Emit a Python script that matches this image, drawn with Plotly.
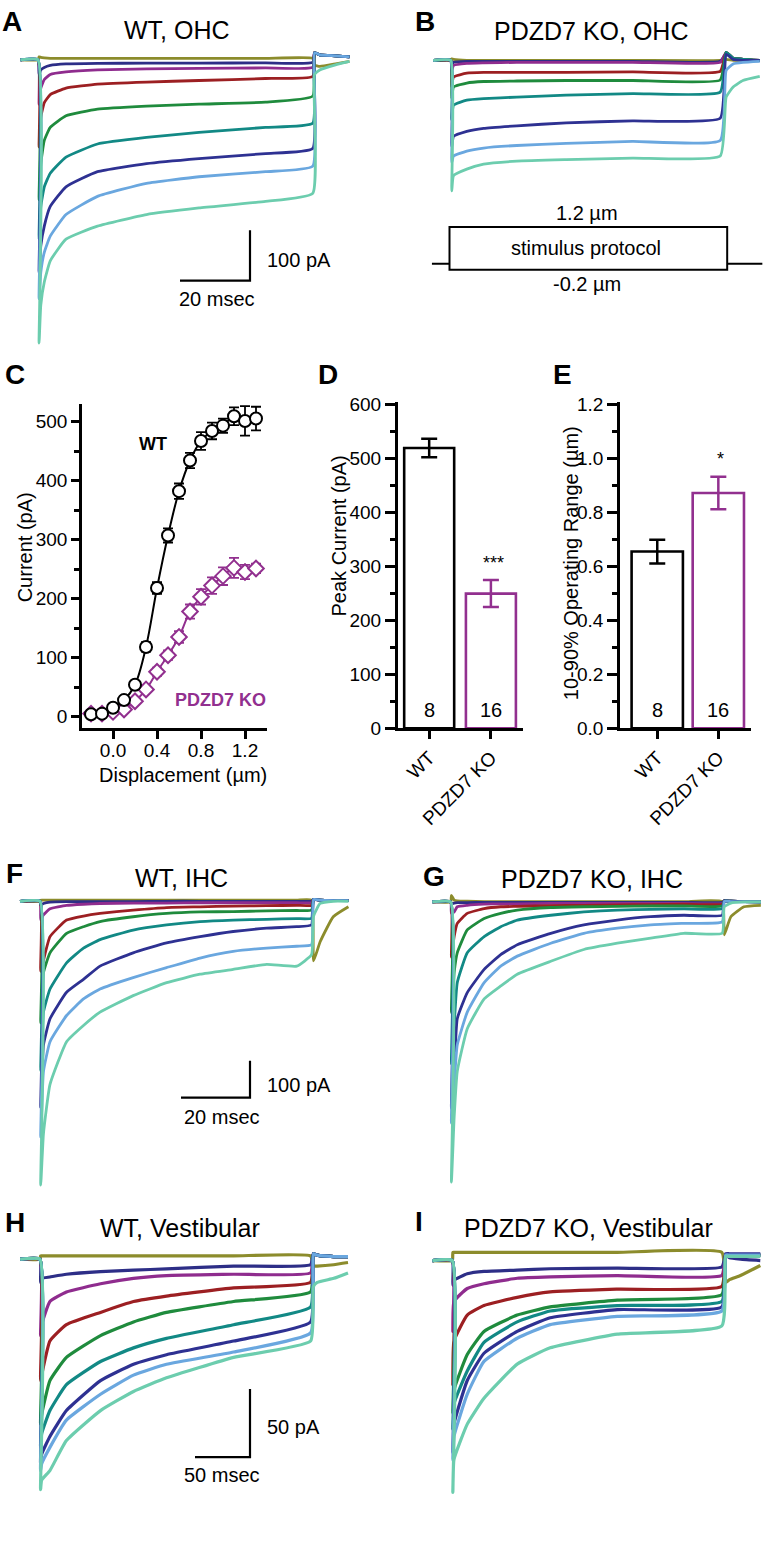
import plotly.graph_objects as go

W, H = 768, 1559
FONT = "Liberation Sans, Arial, Helvetica, sans-serif"
PURPLE = "#92308f"

# trace colours, smallest (olive) to largest (aquamarine) stimulus
TRACE_COLORS = ["#8c8c2c", "#2d2e87", "#8f2c8e", "#9c1f22", "#1f8b3d",
                "#128985", "#2e3192", "#6aa7df", "#6ccdae"]

# ---------------- Panel A: WT, OHC (time ms, current pA) ----------------
A_t = [-5, 0, 0.3, 0.8, 1.8, 3.5, 8, 17, 31, 46, 65, 78.5, 79, 80.5, 85, 89]
A_olive = [0, 0, 6, 5, 4, 3, 3, 3, 3, 3, 3, 3, -10, -13, -8, -3]
A_navy = [0, 0, -29, -20, -15, -11, -8, -7, -6.5, -6.5, -6, -5, 14, 10, 8, 6]
A_purple = [0, 0, -88, -56, -39, -29, -24, -20, -18, -17, -16, -15, 14, 10, 8, 6]
A_red = [0, 0, -173, -114, -85, -69, -56, -48, -44, -41, -37, -33, 14, 10, 8, 6]
A_green = [0, 0, -278, -206, -160, -134, -111, -98, -92, -88, -84, -72, 14, 10, 8, 6]
A_teal = [0, 0, -356, -291, -252, -225, -193, -167, -154, -144, -134, -126, 14, 10, 8, 6]
A_blue = [0, 0, -422, -369, -330, -291, -252, -222, -206, -196, -186, -176, 14, 10, 8, 6]
A_lblue = [0, 0, -474, -422, -382, -350, -307, -271, -245, -232, -222, -211, 14, 10, 8, 6]
A_aqua = [0, 0, -562, -487, -441, -399, -356, -330, -307, -294, -281, -265, -29, -20, -10, -3]

# ---------------- Panel B: PDZD7 KO, OHC ----------------
B_t = [-5, 0, 0.3, 0.8, 4.6, 9.4, 18.9, 33, 52, 77, 78.7, 80.7, 83.5, 88.3]
B_olive = [0, 0, 3, 2, 0, 0, 0, 0, 0, 0, 2, 0, 0, 0]
B_navy = [0, 0, -8, -4, -2, -2, -2, -2, -2, -2, 14, 4, 2, 0]
B_purple = [0, 0, -20, -10, -6, -5, -4, -4, -4, -4, 16, 4, 2, 0]
B_red = [0, 0, -53, -33, -25.5, -24, -24, -24, -23, -22, 16, 4, 2, 0]
B_green = [0, 0, -76, -53, -45, -42, -41, -40, -40, -39, 16, 4, 2, 0]
B_teal = [0, 0, -118, -89, -79, -76, -73, -69, -66, -63, 16, 4, 2, 0]
B_blue = [0, 0, -171, -151, -141, -135, -130, -124, -120, -115, 12, 2, 0, 0]
B_lblue = [0, 0, -203, -190, -180, -174, -169, -165, -161, -159, -20, -7, -4, -2]
B_aqua = [0, 0, -259, -229, -216, -206, -200, -197, -194, -190, -73, -53, -40, -32]

# stimulus protocol (ms, µm)
stim_pre, stim_on, stim_off, stim_end = -5, 0, 79, 89
stim_low, stim_high = -0.2, 1.2

# ---------------- Panel C: I-X curves ----------------
C_x = [-0.2, -0.1, 0.0, 0.1, 0.2, 0.3, 0.4, 0.5, 0.6, 0.7, 0.8, 0.9, 1.0, 1.1, 1.2, 1.3]
C_wt = [4, 5, 15, 28, 54, 118, 218, 307, 382, 434, 467, 484, 493, 509, 501, 505]
C_wt_err = [2, 2, 3, 4, 6, 8, 10, 12, 13, 13, 15, 14, 12, 15, 25, 20]
C_ko = [5, 5, 8, 12, 26, 46, 76, 104, 135, 178, 203, 222, 238, 252, 245, 251]
C_ko_err = [2, 2, 2, 3, 4, 5, 7, 8, 10, 12, 13, 14, 15, 17, 12, 8]

# ---------------- Panels D, E: bar charts ----------------
groups = ["WT", "PDZD7 KO"]
n_cells = ["8", "16"]
D_mean = [520, 250]
D_err = [17, 25]
E_mean = [0.656, 0.873]
E_err = [0.044, 0.06]

# ---------------- Panel F: WT, IHC ----------------
F_t = [-5.8, 0, 0.2, 1, 2.9, 7.7, 12.6, 17.4, 27, 36.7, 46.4, 56, 65.7, 74.4, 78.7, 79.3, 81.2, 85, 89.4]
F_olive = [0, 0, 3, 3, 3, 3, 3, 3, 3, 3, 3, 3, 3, 3, 3, -162, -110, -42, -15]
F_navy = [0, 0, -10, -6, -2, -1, -1, -1, -1, 0, 0, 0, 0, 0, 0, 5, 3, 2, 2]
F_purple = [0, 0, -50, -37, -20, -11, -8, -6, -5, -5, -4, -4, -4, -4, -4, 5, 3, 2, 2]
F_red = [0, 0, -190, -160, -96, -51, -40, -33, -24, -17, -15, -13, -12, -11, -11, 5, 3, 2, 2]
F_green = [0, 0, -330, -194, -140, -87, -69, -55, -42, -33, -29, -28, -26, -25, -24, 5, 3, 2, 2]
F_teal = [0, 0, -460, -301, -238, -167, -127, -104, -78, -64, -55, -51, -49, -47, -46, 5, 3, 2, 2]
F_blue = [0, 0, -560, -390, -319, -247, -212, -176, -140, -113, -96, -82, -73, -69, -64, 5, 3, 2, 2]
F_lblue = [0, 0, -640, -462, -381, -310, -265, -238, -207, -180, -154, -136, -127, -122, -118, 5, 3, 2, 2]
F_aqua = [0, 0, -770, -631, -497, -381, -337, -301, -256, -221, -198, -185, -171, -176, -145, -40, -6, 0, 0]

# ---------------- Panel G: PDZD7 KO, IHC ----------------
G_t = [-5.3, 0, 0.2, 1, 1.9, 4.8, 9.7, 14.5, 19.3, 29, 38.6, 48.3, 58, 67.6, 78.7, 79.3, 81.2, 85, 89.9]
G_olive = [0, 0, 18, 5, 3, 2, 1, 1, 1, 1, 1, 1, 1, 1, 1, -89, -40, -13, -9]
G_navy = [0, 0, -5, -3, -2, -2, -1, -1, -1, -1, -1, -1, -1, -1, -1, 3, 2, 1, 0]
G_purple = [0, 0, -30, -27, -13, -9, -6, -5, -5, -4, -4, -4, -4, -4, -4, 3, 2, 1, 0]
G_red = [0, 0, -150, -94, -58, -31, -18, -13, -12, -10, -9, -8, -7, -6, -6, 3, 2, 1, 0]
G_green = [0, 0, -300, -192, -138, -76, -45, -31, -22, -15, -13, -12, -11, -11, -11, 3, 2, 1, 0]
G_teal = [0, 0, -440, -335, -219, -138, -94, -67, -49, -36, -27, -22, -20, -19, -18, 3, 2, 1, 0]
G_blue = [0, 0, -560, -460, -317, -246, -183, -143, -116, -85, -62, -49, -40, -36, -36, 3, 2, 1, 0]
G_lblue = [0, 0, -600, -496, -388, -299, -219, -174, -147, -112, -85, -71, -62, -58, -54, 2, 1, 0, 0]
G_aqua = [0, 0, -760, -585, -460, -344, -263, -228, -196, -161, -129, -112, -98, -85, -85, -13, -3, 0, 0]

# ---------------- Panel H: WT, Vestibular ----------------
H_t = [-18, 0, 0.5, 1.5, 9, 24, 55, 85, 115, 176, 246, 248.5, 252, 267, 280]
H_olive = [0, 0, 2.5, 2.5, 2.5, 2.5, 2.5, 2.5, 2.5, 2.5, 2.5, -5, -5, -4, -2.4]
H_navy = [0, 0, -17, -14, -13, -11, -9, -8, -7, -5, -4, 4, 3, 2, 2]
H_purple = [0, 0, -56, -48, -31, -24, -18, -14, -12, -11, -10, 4, 3, 2, 2]
H_red = [0, 0, -89, -85, -60, -48, -39, -31, -27, -21, -17, 4, 3, 2, 2]
H_green = [0, 0, -121, -114, -89, -72, -56, -46, -39, -31, -24, 4, 3, 2, 2]
H_teal = [0, 0, -138, -128, -111, -92, -75, -65, -58, -48, -35, 4, 3, 2, 2]
H_blue = [0, 0, -150, -143, -130, -111, -89, -77, -70, -60, -46, 4, 3, 2, 2]
H_lblue = [0, 0, -155, -150, -138, -118, -99, -85, -77, -68, -54, 4, 3, 2, 2]
H_aqua = [0, 0, -169, -162, -155, -133, -111, -97, -87, -72, -60, -20, -17, -14, -10]

# ---------------- Panel I: PDZD7 KO, Vestibular ----------------
I_t = [-18, 0, 0.5, 1.5, 13.6, 28.8, 59, 89, 150, 245, 248.5, 252, 262, 280]
I_olive = [0, 0, 6, 6, 6, 6, 6, 6, 6, 6, -16, -14, -11, -3.6]
I_navy = [0, 0, -18, -14.5, -9.7, -8, -7, -6, -5.5, -4.8, 4, 2, 1, 0]
I_purple = [0, 0, -52, -30, -20.5, -17, -13, -12, -11, -11, 4, 4, 4, 4]
I_red = [0, 0, -91, -59, -40, -33, -27, -23, -21, -19, 4, 4, 4, 4]
I_green = [0, 0, -112, -95, -69, -52, -40, -34, -29, -25, 4, 4, 4, 4]
I_teal = [0, 0, -124, -105, -81, -60, -45, -37, -33, -30, 4, 4, 4, 4]
I_blue = [0, 0, -141, -120, -88, -68, -52, -42, -36, -34, 5, 5, 5, 5]
I_lblue = [0, 0, -146, -129, -98, -74, -57, -47, -41, -37, 4, 4, 4, 4]
I_aqua = [0, 0, -170, -146, -120, -101, -76, -64, -54, -48, 3, 3, 3, 3]

# scale bars (ms, pA)
OHC_bar = (20, 100)
IHC_bar = (20, 100)
VES_bar = (50, 50)

# ======================================================================
fig = go.Figure()
layout = dict(width=W, height=H, margin=dict(l=0, r=0, t=0, b=0),
              paper_bgcolor="white", plot_bgcolor="rgba(0,0,0,0)",
              showlegend=False, font=dict(family=FONT, color="black", size=19))


def PX(x):
    return x / W


def PY(y):
    return 1 - y / H


# layout geometry of the trace panels (pixels)
GEOM = {
    1: dict(x0=8, x1=362, y0=30, y1=350, onset=38, base=52.5, pxms=3.5, pxpa=0.51, lw=2.8),
    2: dict(x0=420, x1=768, y0=30, y1=198, onset=450.7, base=53, pxms=3.5, pxpa=0.51, lw=2.8),
    7: dict(x0=8, x1=362, y0=892, y1=1215, onset=40, base=904.3, pxms=3.45, pxpa=0.373, lw=2.8),
    8: dict(x0=420, x1=768, y0=892, y1=1215, onset=450.7, base=905, pxms=3.45, pxpa=0.373, lw=2.8),
    9: dict(x0=8, x1=362, y0=1250, y1=1559, onset=40, base=1266.7, pxms=1.1, pxpa=1.38, lw=3.2),
    10: dict(x0=420, x1=768, y0=1250, y1=1559, onset=452.3, base=1268, pxms=1.1, pxpa=1.38, lw=3.2),
}


def trace_axes(n):
    g = GEOM[n]
    xr = [(g["x0"] - g["onset"]) / g["pxms"], (g["x1"] - g["onset"]) / g["pxms"]]
    yr = [-(g["y1"] - g["base"]) / g["pxpa"], (g["base"] - g["y0"]) / g["pxpa"]]
    layout[f"xaxis{n}"] = dict(domain=[PX(g["x0"]), PX(g["x1"])], range=xr,
                               visible=False, anchor=f"y{n}", fixedrange=True)
    layout[f"yaxis{n}"] = dict(domain=[PY(g["y1"]), PY(g["y0"])], range=yr,
                               visible=False, anchor=f"x{n}", fixedrange=True)


def add_family(n, t, series):
    for ys, col in zip(series, TRACE_COLORS):
        fig.add_trace(go.Scatter(x=t, y=ys, mode="lines", xaxis=f"x{n}", yaxis=f"y{n}",
                                 line=dict(color=col, width=GEOM[n]["lw"], shape="spline",
                                           smoothing=0.4),
                                 hoverinfo="skip"))


def add_scalebar(n, corner_px, bar):
    g = GEOM[n]
    cx = (corner_px[0] - g["onset"]) / g["pxms"]
    cy = -(corner_px[1] - g["base"]) / g["pxpa"]
    fig.add_trace(go.Scatter(x=[cx - bar[0], cx, cx], y=[cy, cy, cy + bar[1]],
                             mode="lines", xaxis=f"x{n}", yaxis=f"y{n}",
                             line=dict(color="black", width=2.2), hoverinfo="skip"))


for n in GEOM:
    trace_axes(n)

add_family(1, A_t, [A_olive, A_navy, A_purple, A_red, A_green, A_teal, A_blue, A_lblue, A_aqua])
add_family(2, B_t, [B_olive, B_navy, B_purple, B_red, B_green, B_teal, B_blue, B_lblue, B_aqua])
add_family(7, F_t, [F_olive, F_navy, F_purple, F_red, F_green, F_teal, F_blue, F_lblue, F_aqua])
add_family(8, G_t, [G_olive, G_navy, G_purple, G_red, G_green, G_teal, G_blue, G_lblue, G_aqua])
add_family(9, H_t, [H_olive, H_navy, H_purple, H_red, H_green, H_teal, H_blue, H_lblue, H_aqua])
add_family(10, I_t, [I_olive, I_navy, I_purple, I_red, I_green, I_teal, I_blue, I_lblue, I_aqua])

add_scalebar(1, (250, 276), OHC_bar)
add_scalebar(7, (250, 1103), IHC_bar)
add_scalebar(9, (250, 1467), VES_bar)

# ---- stimulus protocol axes (3) ----
s_onset, s_pxms, s_base, s_pxum = 449.5, 3.515, 258.8, 30.93
sx0, sx1, sy0, sy1 = 420, 768, 200, 292
layout["xaxis3"] = dict(domain=[PX(sx0), PX(sx1)], anchor="y3", visible=False, fixedrange=True,
                        range=[(sx0 - s_onset) / s_pxms, (sx1 - s_onset) / s_pxms])
layout["yaxis3"] = dict(domain=[PY(sy1), PY(sy0)], anchor="x3", visible=False, fixedrange=True,
                        range=[-(sy1 - s_base) / s_pxum, (s_base - sy0) / s_pxum])
fig.add_trace(go.Scatter(x=[stim_pre, stim_on, None, stim_off, stim_end], y=[0, 0, None, 0, 0],
                         mode="lines", xaxis="x3", yaxis="y3",
                         line=dict(color="black", width=2), hoverinfo="skip"))
shapes = [dict(type="rect", xref="x3", yref="y3", x0=stim_on, x1=stim_off,
               y0=stim_low, y1=stim_high, line=dict(color="black", width=2),
               fillcolor="white", layer="below")]

# ---- Panel C axes (4) ----
layout["xaxis4"] = dict(domain=[PX(82), PX(267)], range=[-0.282, 1.4], anchor="y4",
                        showline=True, linewidth=2.5, linecolor="black", ticks="outside",
                        tickwidth=2.5, ticklen=8, tickcolor="black", tickvals=[0, 0.4, 0.8, 1.2],
                        ticktext=["0.0", "0.4", "0.8", "1.2"], showgrid=False, zeroline=False,
                        tickfont=dict(size=19), ticklabelstandoff=-5, fixedrange=True)
layout["yaxis4"] = dict(domain=[PY(729.3), PY(400.7)], range=[-20, 530], anchor="x4",
                        showline=True, linewidth=2.5, linecolor="black", ticks="outside",
                        tickwidth=2.5, ticklen=8, tickcolor="black", tickvals=[0, 100, 200, 300, 400, 500],
                        minor=dict(tickvals=[50, 150, 250, 350, 450], ticks="outside", ticklen=5,
                                   tickwidth=2.5, tickcolor="black"),
                        showgrid=False, zeroline=False, tickfont=dict(size=19), fixedrange=True)
fig.add_trace(go.Scatter(x=C_x, y=C_ko, mode="lines+markers", xaxis="x4", yaxis="y4",
                         line=dict(color=PURPLE, width=2, shape="spline"),
                         marker=dict(symbol="diamond", size=12, color="white",
                                     line=dict(color=PURPLE, width=2)),
                         error_y=dict(type="data", array=C_ko_err, color=PURPLE, thickness=1.8, width=5),
                         hoverinfo="skip"))
fig.add_trace(go.Scatter(x=C_x, y=C_wt, mode="lines+markers", xaxis="x4", yaxis="y4",
                         line=dict(color="black", width=2, shape="spline"),
                         marker=dict(symbol="circle", size=12, color="white",
                                     line=dict(color="black", width=2)),
                         error_y=dict(type="data", array=C_wt_err, color="black", thickness=1.8, width=5),
                         hoverinfo="skip"))


# ---- Panels D (5) and E (6) ----
def bar_axes(n, xdom, xr, ydom, yr, tickvals, minor_vals, ticktext):
    layout[f"xaxis{n}"] = dict(domain=[PX(xdom[0]), PX(xdom[1])], range=xr, anchor=f"y{n}",
                               showline=True, linewidth=2.5, linecolor="black", ticks="outside",
                               tickwidth=2.5, ticklen=8, tickcolor="black", tickvals=[0, 1],
                               ticktext=groups, tickangle=-45, showgrid=False, zeroline=False,
                               tickfont=dict(size=19), fixedrange=True)
    layout[f"yaxis{n}"] = dict(domain=[PY(ydom[0]), PY(ydom[1])], range=yr, anchor=f"x{n}",
                               showline=True, linewidth=2.5, linecolor="black", ticks="outside",
                               tickwidth=2.5, ticklen=10, tickcolor="black", tickvals=tickvals,
                               ticktext=ticktext,
                               minor=dict(tickvals=minor_vals, ticks="outside", ticklen=5,
                                          tickwidth=2.5, tickcolor="black"),
                               showgrid=False, zeroline=False, tickfont=dict(size=19), fixedrange=True)


bar_axes(5, (397.7, 523), [-0.51, 1.52], (729.3, 399), [0, 605],
         [0, 100, 200, 300, 400, 500, 600], [50, 150, 250, 350, 450, 550],
         ["0", "100", "200", "300", "400", "500", "600"])
bar_axes(6, (620, 750.7), [-0.61, 1.53], (729.3, 399), [0, 1.21],
         [0, 0.2, 0.4, 0.6, 0.8, 1.0, 1.2], [0.1, 0.3, 0.5, 0.7, 0.9, 1.1],
         ["0.0", "0.2", "0.4", "0.6", "0.8", "1.0", "1.2"])

for n, means, errs, bw in [(5, D_mean, D_err, 0.81), (6, E_mean, E_err, 0.84)]:
    for i, col in enumerate(["black", PURPLE]):
        fig.add_trace(go.Bar(x=[i], y=[means[i]], width=bw, xaxis=f"x{n}", yaxis=f"y{n}",
                             marker=dict(color="white", line=dict(color=col, width=2.6)),
                             error_y=dict(type="data", array=[errs[i]], color=col,
                                          thickness=2.5, width=8),
                             hoverinfo="skip"))
layout["barmode"] = "overlay"

# ---- annotations ----
ann = []


def text(x, y, s, size=19, bold=False, color="black", angle=0, xanchor="center"):
    ann.append(dict(x=PX(x), y=PY(y), xref="paper", yref="paper", text=f"<b>{s}</b>" if bold else s,
                    showarrow=False, font=dict(size=size, color=color, family=FONT),
                    textangle=angle, xanchor=xanchor, yanchor="middle"))


# panel letters
for s, x, y in [("A", 12, 14), ("B", 425, 14), ("C", 15, 371), ("D", 328, 371), ("E", 562, 371),
                ("F", 14, 876), ("G", 434, 879), ("H", 15, 1229), ("I", 419, 1228)]:
    text(x, y, s, size=28, bold=True)

# titles
text(177, 22, "WT, OHC", size=25)
text(591, 23, "PDZD7 KO, OHC", size=25)
text(181, 881, "WT, IHC", size=25)
text(592, 882, "PDZD7 KO, IHC", size=25)
text(180, 1235, "WT, Vestibular", size=25)
text(588, 1235, "PDZD7 KO, Vestibular", size=25)

# scale bar labels
text(265, 255, "100 pA", size=20, xanchor="left")
text(217, 295, "20 msec", size=20)
text(265, 1090, "100 pA", size=20, xanchor="left")
text(222, 1123, "20 msec", size=20)
text(265, 1437, "50 pA", size=20, xanchor="left")
text(222, 1485, "50 msec", size=20)

# stimulus protocol labels
text(587, 208, "1.2 µm", size=20)
text(586, 243, "stimulus protocol", size=20)
text(587, 279, "-0.2 µm", size=20)

# panel C labels
text(153, 441, "WT", size=18, bold=True)
text(220, 701, "PDZD7 KO", size=18, bold=True, color=PURPLE)
text(25, 546, "Current (pA)", size=20, angle=-90)
text(183, 776, "Displacement (µm)", size=20)

# panel D/E labels
text(339, 535, "Peak Current (pA)", size=20, angle=-90)
text(571, 562, "10-90% Operating Range (µm)", size=20, angle=-90)
text(493, 562, "***", size=18)
text(720, 457, "*", size=18)
for x, s in [(429.3, n_cells[0]), (491, n_cells[1]), (657.3, n_cells[0]), (718.3, n_cells[1])]:
    text(x, 711, s, size=20)

layout["annotations"] = ann
layout["shapes"] = shapes
fig.update_layout(**layout)

fig.write_html("out.html", post_script="document.body.style.margin='0';",
               config={"displayModeBar": False})
